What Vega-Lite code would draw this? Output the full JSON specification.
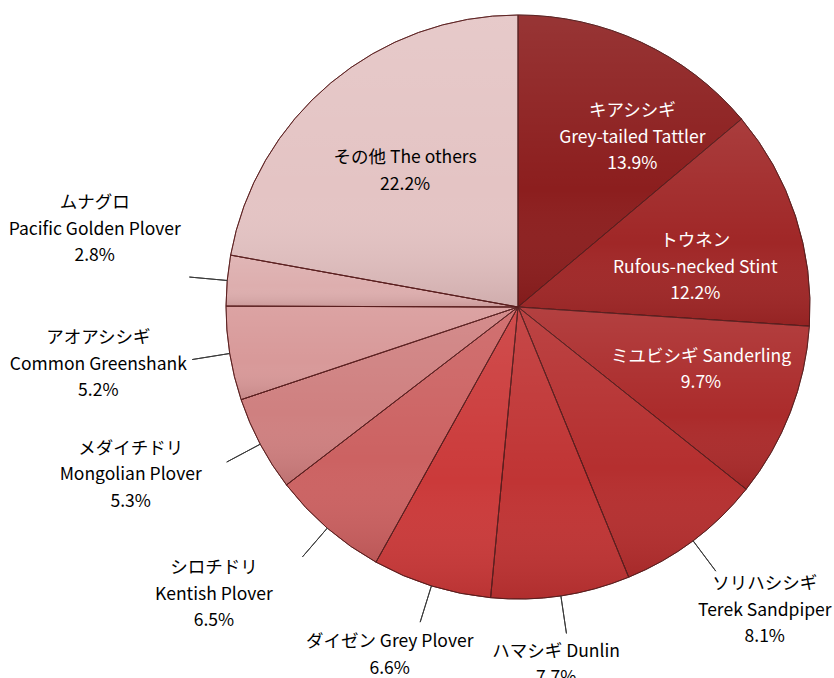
{
  "$schema": "https://vega.github.io/schema/vega-lite/v6.json",
  "autosize": "none",
  "width": 632,
  "height": 614,
  "padding": {"left": 202, "top": 0, "right": 0, "bottom": 64},
  "background": "white",
  "config": {"view": {"stroke": null}, "text": {"font": "Noto Sans CJK JP", "fontSize": 17.5, "lineHeight": 26.5, "lineBreak": "\n", "align": "center", "baseline": "middle"}},
  "data": {
    "values": [
      {"idx": 1, "name": "Grey-tailed Tattler", "label": "キアシシギ\nGrey-tailed Tattler", "share": 13.9},
      {"idx": 2, "name": "Rufous-necked Stint", "label": "トウネン\nRufous-necked Stint", "share": 12.2},
      {"idx": 3, "name": "Sanderling", "label": "ミユビシギ Sanderling", "share": 9.7},
      {"idx": 4, "name": "Terek Sandpiper", "label": "ソリハシシギ\nTerek Sandpiper", "share": 8.1},
      {"idx": 5, "name": "Dunlin", "label": "ハマシギ Dunlin", "share": 7.7},
      {"idx": 6, "name": "Grey Plover", "label": "ダイゼン Grey Plover", "share": 6.6},
      {"idx": 7, "name": "Kentish Plover", "label": "シロチドリ\nKentish Plover", "share": 6.5},
      {"idx": 8, "name": "Mongolian Plover", "label": "メダイチドリ\nMongolian Plover", "share": 5.3},
      {"idx": 9, "name": "Common Greenshank", "label": "アオアシシギ\nCommon Greenshank", "share": 5.2},
      {"idx": 10, "name": "Pacific Golden Plover", "label": "ムナグロ\nPacific Golden Plover", "share": 2.8},
      {"idx": 11, "name": "The others", "label": "その他 The others", "share": 22.2}
    ]
  },
  "transform": [
    {"calculate": "datum.label + '\\n' + format(datum.share, '.1f') + '%'", "as": "text"},
    {"window": [{"op": "sum", "field": "share", "as": "cum"}], "sort": [{"field": "idx"}]},
    {"calculate": "datum.cum - datum.share / 2", "as": "mid"}
  ],
  "layer": [
    {
      "mark": {"type": "arc", "outerRadius": 292, "stroke": "#5a1e1e", "strokeWidth": 1},
      "encoding": {
        "theta": {"field": "share", "type": "quantitative", "stack": true},
        "order": {"field": "idx", "type": "quantitative"},
        "color": {
          "field": "name", "type": "nominal", "legend": null,
          "scale": {
            "domain": ["Grey-tailed Tattler", "Rufous-necked Stint", "Sanderling", "Terek Sandpiper", "Dunlin", "Grey Plover", "Kentish Plover", "Mongolian Plover", "Common Greenshank", "Pacific Golden Plover", "The others"],
            "range": ["#8c1e1e", "#a02727", "#ab2b2b", "#b52f2f", "#c03434", "#cb3a3a", "#cc6262", "#cf8080", "#d89999", "#ddaeae", "#e4c4c4"]
          }
        }
      }
    },
    {
      "mark": {
        "type": "arc", "outerRadius": 292, "stroke": "#5a1e1e", "strokeWidth": 1, "strokeOpacity": 0.6,
        "fill": {
          "gradient": "linear", "x1": 0, "y1": 0, "x2": 0, "y2": 1,
          "stops": [
            {"offset": 0, "color": "rgba(255,255,255,0.10)"},
            {"offset": 0.6, "color": "rgba(255,255,255,0)"},
            {"offset": 1, "color": "rgba(60,0,0,0.12)"}
          ]
        }
      },
      "encoding": {
        "theta": {"field": "share", "type": "quantitative", "stack": true},
        "order": {"field": "idx", "type": "quantitative"}
      }
    },
    {
      "transform": [{"filter": "datum.idx >= 4 && datum.idx <= 10"}],
      "mark": {"type": "arc", "radius": 292, "radius2": 330, "stroke": "#3a3a3a", "strokeWidth": 1, "fillOpacity": 0},
      "encoding": {
        "theta": {"field": "mid", "type": "quantitative", "stack": null},
        "theta2": {"field": "mid"}
      }
    },
    {
      "transform": [{"filter": "datum.idx == 1"}],
      "mark": {"type": "text", "radius": 195, "dx": 32, "dy": -19, "color": "white"},
      "encoding": {"theta": {"field": "mid", "type": "quantitative", "stack": null}, "text": {"field": "text", "type": "nominal"}}
    },
    {
      "transform": [{"filter": "datum.idx == 2"}],
      "mark": {"type": "text", "radius": 195, "dx": -8, "dy": -5, "color": "white"},
      "encoding": {"theta": {"field": "mid", "type": "quantitative", "stack": null}, "text": {"field": "text", "type": "nominal"}}
    },
    {
      "transform": [{"filter": "datum.idx == 3"}],
      "mark": {"type": "text", "radius": 192, "dx": 4, "dy": -19.5, "color": "white"},
      "encoding": {"theta": {"field": "mid", "type": "quantitative", "stack": null}, "text": {"field": "text", "type": "nominal"}}
    },
    {
      "transform": [{"filter": "datum.idx == 11"}],
      "mark": {"type": "text", "radius": 176, "dy": -13.5, "color": "black"},
      "encoding": {"theta": {"field": "mid", "type": "quantitative", "stack": null}, "text": {"field": "text", "type": "nominal"}}
    },
    {
      "transform": [{"filter": "datum.idx == 4"}],
      "mark": {"type": "text", "radius": 390, "dx": 13, "dy": -35, "color": "black"},
      "encoding": {"theta": {"field": "mid", "type": "quantitative", "stack": null}, "text": {"field": "text", "type": "nominal"}}
    },
    {
      "transform": [{"filter": "datum.idx == 5"}],
      "mark": {"type": "text", "radius": 362, "dx": -15, "dy": -13.5, "color": "black"},
      "encoding": {"theta": {"field": "mid", "type": "quantitative", "stack": null}, "text": {"field": "text", "type": "nominal"}}
    },
    {
      "transform": [{"filter": "datum.idx == 6"}],
      "mark": {"type": "text", "radius": 362, "dx": -21, "dy": -10.5, "color": "black"},
      "encoding": {"theta": {"field": "mid", "type": "quantitative", "stack": null}, "text": {"field": "text", "type": "nominal"}}
    },
    {
      "transform": [{"filter": "datum.idx == 7"}],
      "mark": {"type": "text", "radius": 415, "dx": -33, "dy": -53, "color": "black"},
      "encoding": {"theta": {"field": "mid", "type": "quantitative", "stack": null}, "text": {"field": "text", "type": "nominal"}}
    },
    {
      "transform": [{"filter": "datum.idx == 8"}],
      "mark": {"type": "text", "radius": 415, "dx": -21, "dy": -53, "color": "black"},
      "encoding": {"theta": {"field": "mid", "type": "quantitative", "stack": null}, "text": {"field": "text", "type": "nominal"}}
    },
    {
      "transform": [{"filter": "datum.idx == 9"}],
      "mark": {"type": "text", "radius": 415, "dx": -10, "dy": -35, "color": "black"},
      "encoding": {"theta": {"field": "mid", "type": "quantitative", "stack": null}, "text": {"field": "text", "type": "nominal"}}
    },
    {
      "transform": [{"filter": "datum.idx == 10"}],
      "mark": {"type": "text", "radius": 415, "dx": -10, "dy": -66, "color": "black"},
      "encoding": {"theta": {"field": "mid", "type": "quantitative", "stack": null}, "text": {"field": "text", "type": "nominal"}}
    }
  ]
}
